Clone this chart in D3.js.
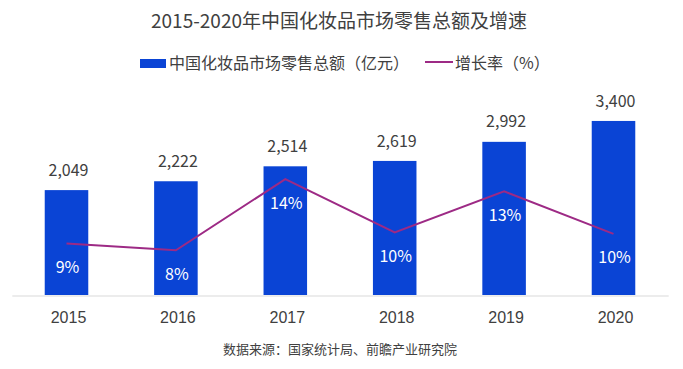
<!DOCTYPE html>
<html>
<head>
<meta charset="utf-8">
<script src="https://cdn.jsdelivr.net/npm/d3@7"></script>
<style>
  html, body { margin: 0; padding: 0; background: #fff; }
  svg { display: block; font-family: "Microsoft YaHei", "Noto Sans CJK SC", "Noto Sans", sans-serif; }
</style>
</head>
<body>
<svg id="chart" width="683" height="369"></svg>
<script>
const years = ["2015", "2016", "2017", "2018", "2019", "2020"];
const sales = [2049, 2222, 2514, 2619, 2992, 3400];
const growth = [8.8, 8.3, 13.5, 9.6, 12.6, 9.5];

const titleText = "2015-2020年中国化妆品市场零售总额及增速";
const barLegend = "中国化妆品市场零售总额（亿元）";
const lineLegend = "增长率（%）";
const sourceText = "数据来源：国家统计局、前瞻产业研究院";

const barColor = "#0a44d5";
const lineColor = "#9d2a85";
const textColor = "#404040";

const svg = d3.select("#chart");
const W = 683, H = 369;
svg.append("rect").attr("width", W).attr("height", H).attr("fill", "#fff");

const x = d3.scaleBand().domain(years).range([11.8, 668.2]).paddingInner(0.602).paddingOuter(0.301);
const yBar = d3.scaleLinear().domain([0, 4200]).range([295, 80]);
const yRate = d3.scaleLinear().domain([0, 20]).range([364, 90]);

// title
svg.append("text").attr("x", 339).attr("y", 21).attr("dy", "0.35em")
  .attr("text-anchor", "middle").attr("fill", textColor).attr("font-size", 19)
  .text(titleText);

// legend
svg.append("rect").attr("x", 140).attr("y", 59).attr("width", 26).attr("height", 9).attr("fill", barColor);
svg.append("text").attr("x", 169).attr("y", 63.5).attr("dy", "0.35em")
  .attr("fill", textColor).attr("font-size", 16).text(barLegend);
svg.append("line").attr("x1", 425).attr("x2", 453).attr("y1", 62).attr("y2", 62)
  .attr("stroke", lineColor).attr("stroke-width", 2);
svg.append("text").attr("x", 455).attr("y", 63.5).attr("dy", "0.35em")
  .attr("fill", textColor).attr("font-size", 16).text(lineLegend);

// bars
svg.append("g").selectAll("rect").data(years).join("rect")
  .attr("x", d => x(d))
  .attr("width", x.bandwidth())
  .attr("y", (d, i) => yBar(sales[i]))
  .attr("height", (d, i) => yBar(0) - yBar(sales[i]))
  .attr("fill", barColor);

// axis
const axis = svg.append("g").attr("transform", "translate(0,295.5)")
  .call(d3.axisBottom(x).tickSize(0).tickSizeOuter(0).tickPadding(0));
axis.select(".domain").attr("stroke", "#d9d9d9").attr("stroke-width", 1.2);
axis.selectAll(".tick text")
  .attr("font-family", null)
  .attr("font-size", 16).attr("fill", textColor)
  .attr("x", 2).attr("y", 21.5).attr("dy", "0.35em");

// value labels
svg.append("g").selectAll("text").data(years).join("text")
  .attr("x", d => x(d) + x.bandwidth() / 2 + 2)
  .attr("y", (d, i) => yBar(sales[i]) - 20)
  .attr("dy", "0.35em")
  .attr("text-anchor", "middle").attr("font-size", 16).attr("fill", textColor)
  .text((d, i) => d3.format(",")(sales[i]));

// line
const line = d3.line()
  .x((d, i) => x(years[i]) + x.bandwidth() / 2)
  .y(d => yRate(d));
svg.append("path").datum(growth).attr("d", line)
  .attr("fill", "none").attr("stroke", lineColor).attr("stroke-width", 2);

// rate labels
svg.append("g").selectAll("text").data(growth).join("text")
  .attr("x", (d, i) => x(years[i]) + x.bandwidth() / 2 + 1)
  .attr("y", d => yRate(d) + 24)
  .attr("dy", "0.35em")
  .attr("text-anchor", "middle").attr("font-size", 16).attr("fill", "#fff")
  .text(d => Math.round(d) + "%");

// source
svg.append("text").attr("x", 340).attr("y", 349).attr("dy", "0.35em")
  .attr("text-anchor", "middle").attr("fill", textColor).attr("font-size", 13)
  .text(sourceText);
</script>
</body>
</html>
